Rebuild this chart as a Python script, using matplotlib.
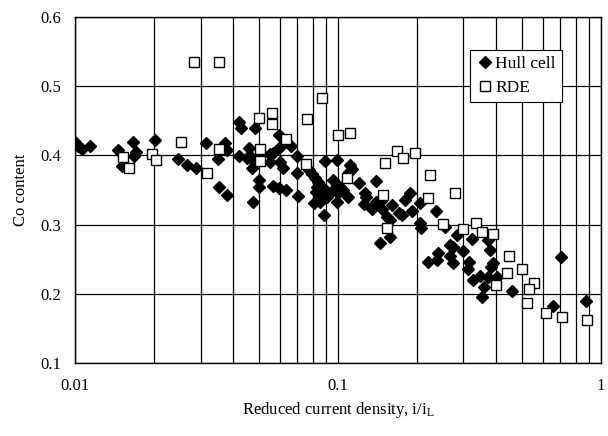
import numpy as np
import matplotlib
matplotlib.use('Agg')
import matplotlib.pyplot as plt
from matplotlib.ticker import FixedLocator, NullFormatter

# Hull cell data (reduced current density, Co content)
hull_x = [0.0100, 0.01027, 0.01063, 0.0114, 0.01457, 0.01509, 0.01662, 0.01676, 0.01706, 0.02015,
          0.02464, 0.02666, 0.02884, 0.03148, 0.03498, 0.03529, 0.03718, 0.03784, 0.03784, 0.04203,
          0.04277, 0.04835, 0.04203, 0.04587, 0.04627, 0.04508, 0.04750, 0.04709, 0.04750, 0.05007,
          0.05007, 0.05512, 0.05659, 0.05512, 0.05969, 0.06022, 0.06627, 0.06022, 0.06179, 0.06984,
          0.06984, 0.05659, 0.05969, 0.06343, 0.07046,
          0.07757, 0.07963, 0.08175, 0.08395, 0.08321, 0.08693, 0.08248, 0.08542, 0.08925, 0.09082,
          0.08104, 0.08542, 0.08847, 0.08925, 0.09913, 0.09572, 0.09913, 0.1018, 0.09572, 0.1000,
          0.09913, 0.1045, 0.1092, 0.1111, 0.1131, 0.1101, 0.1202, 0.1267, 0.1278, 0.1256,
          0.1395, 0.1347, 0.1395, 0.1457, 0.1470, 0.1605, 0.1536, 0.1577, 0.1706, 0.1444,
          0.1577, 0.1879, 0.1798, 0.1912, 0.1751, 0.2050, 0.2358, 0.2050, 0.2068, 0.2552,
          0.2835, 0.3232, 0.2667, 0.2737, 0.2987, 0.2400, 0.2199, 0.2379, 0.2667, 0.2737,
          0.3148, 0.3121, 0.3785, 0.3719, 0.3886, 0.3818, 0.3261, 0.3467, 0.3719, 0.4024,
          0.3591, 0.3528, 0.4587, 0.6571, 0.7046, 0.877]
hull_y = [0.419, 0.414, 0.409, 0.414, 0.408, 0.385, 0.419, 0.399, 0.405, 0.422,
          0.395, 0.386, 0.382, 0.418, 0.395, 0.354, 0.418, 0.408, 0.343, 0.448,
          0.440, 0.440, 0.399, 0.411, 0.399, 0.396, 0.393, 0.382, 0.333, 0.365,
          0.354, 0.402, 0.404, 0.391, 0.430, 0.412, 0.414, 0.391, 0.382, 0.399,
          0.375, 0.356, 0.353, 0.350, 0.341,
          0.379, 0.373, 0.367, 0.362, 0.354, 0.354, 0.347, 0.346, 0.350, 0.340,
          0.331, 0.333, 0.314, 0.392, 0.393, 0.365, 0.357, 0.354, 0.350, 0.346,
          0.333, 0.350, 0.340, 0.386, 0.380, 0.376, 0.360, 0.346, 0.340, 0.330,
          0.363, 0.323, 0.333, 0.334, 0.323, 0.328, 0.311, 0.307, 0.317, 0.273,
          0.282, 0.346, 0.336, 0.320, 0.314, 0.331, 0.320, 0.302, 0.295, 0.297,
          0.285, 0.279, 0.271, 0.268, 0.262, 0.259, 0.246, 0.249, 0.255, 0.245,
          0.246, 0.236, 0.263, 0.278, 0.245, 0.239, 0.220, 0.226, 0.224, 0.224,
          0.210, 0.195, 0.204, 0.182, 0.253, 0.190]

# RDE data
rde_x = [0.02835, 0.0353, 0.0253, 0.01522, 0.01604, 0.01963, 0.0203, 0.0318, 0.0500, 0.0561,
         0.0561, 0.0634, 0.0353, 0.0505, 0.0505, 0.0762, 0.0755, 0.0869, 0.1000, 0.1110,
         0.1080, 0.1676, 0.1766, 0.1510, 0.1480, 0.1540, 0.1960, 0.2238, 0.2198, 0.2786,
         0.2508, 0.2988, 0.3350, 0.3530, 0.3880, 0.3990, 0.4468, 0.4391, 0.5010, 0.5560,
         0.5320, 0.5230, 0.6180, 0.7110, 0.8850]
rde_y = [0.535, 0.535, 0.419, 0.398, 0.382, 0.402, 0.393, 0.375, 0.454, 0.461,
         0.445, 0.424, 0.409, 0.409, 0.392, 0.453, 0.388, 0.483, 0.429, 0.432,
         0.367, 0.406, 0.396, 0.389, 0.343, 0.295, 0.404, 0.372, 0.338, 0.346,
         0.301, 0.294, 0.302, 0.289, 0.286, 0.213, 0.255, 0.230, 0.236, 0.216,
         0.207, 0.187, 0.172, 0.167, 0.162]

params = {
    'font.family': 'serif',
    'font.serif': ['Liberation Serif', 'DejaVu Serif'],
    'font.size': 12,
    'mathtext.fontset': 'stix',
}
matplotlib.rcParams.update(params)

fig = plt.figure(figsize=(6.08, 4.36), dpi=100)
ax = fig.add_axes([0.1234, 0.1674, 0.8651, 0.7936])

ax.plot(hull_x, hull_y, linestyle='none', marker='D', ms=6, mfc='black', mec='black',
        label='Hull cell', zorder=3)
ax.plot(rde_x, rde_y, linestyle='none', marker='s', ms=7, mfc='white', mec='black', mew=1.0,
        label='RDE', zorder=4)

ax.set_xscale('log')
ax.set_xlim(0.01, 1)
ax.set_ylim(0.1, 0.6)

ax.xaxis.set_major_locator(FixedLocator([0.01, 0.1, 1]))
ax.xaxis.set_minor_locator(FixedLocator([m * d for d in (0.01, 0.1) for m in range(2, 10)]))
ax.xaxis.set_minor_formatter(NullFormatter())
ax.set_xticklabels(['0.01', '0.1', '1'])
ax.set_yticks([0.1, 0.2, 0.3, 0.4, 0.5, 0.6])
ax.set_yticklabels(['0.1', '0.2', '0.3', '0.4', '0.5', '0.6'])

ax.grid(True, which='both', axis='x', color='black', lw=0.9)
ax.grid(True, which='major', axis='y', color='black', lw=0.9)
ax.tick_params(which='both', length=0)
ax.tick_params(axis='x', pad=11)
ax.tick_params(axis='y', pad=10)
for s in ax.spines.values():
    s.set_color('black')
    s.set_linewidth(1.0)

ax.set_xlabel('Reduced current density, i/i$_\\mathregular{L}$', labelpad=4)
ax.set_ylabel('Co content', labelpad=8)

leg = ax.legend(loc='upper left', bbox_to_anchor=(0.735, 0.93), fancybox=False,
                edgecolor='black', framealpha=1, handletextpad=0.1, borderpad=0.35,
                labelspacing=0.45, handlelength=1.0, fontsize=12.5)
leg.get_frame().set_linewidth(0.8)

fig.savefig('out.png', dpi=100)
